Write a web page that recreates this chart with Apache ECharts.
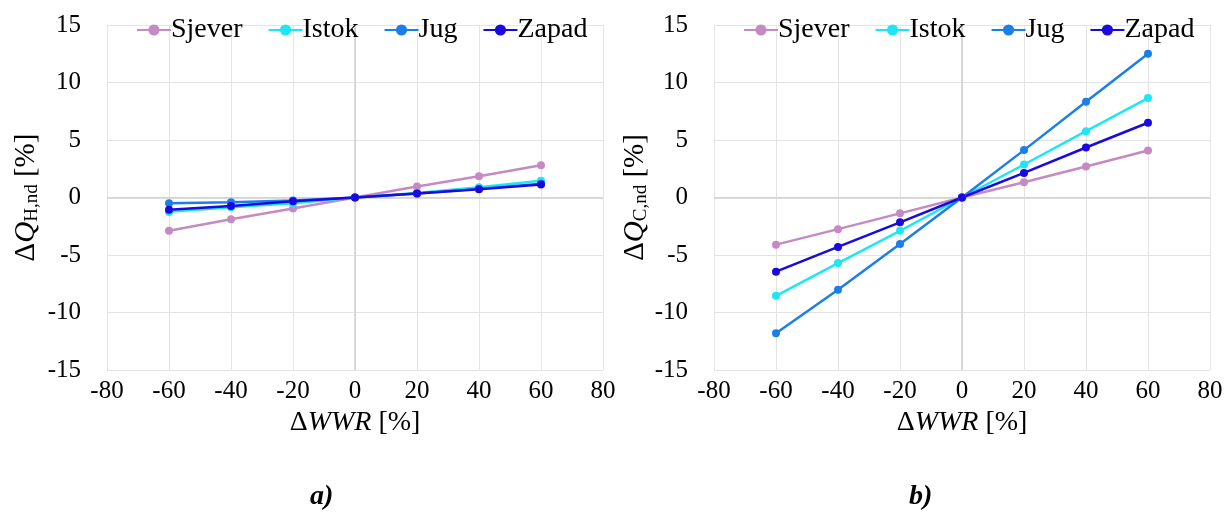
<!DOCTYPE html>
<html>
<head>
<meta charset="utf-8">
<script src="https://cdn.jsdelivr.net/npm/echarts@6/dist/echarts.min.js"></script>
<style>html,body{margin:0;padding:0;background:#fff;}#c{width:1227px;height:531px;}</style>
</head>
<body>
<div id="c"></div>
<script>
var xValues = [-60, -40, -20, 0, 20, 40, 60];
var seriesNames = ['Sjever', 'Istok', 'Jug', 'Zapad'];
var heatSjever = [-2.9, -1.9, -0.95, 0, 0.95, 1.85, 2.8];
var heatIstok  = [-1.25, -0.85, -0.5, 0, 0.4, 0.9, 1.45];
var heatJug    = [-0.5, -0.42, -0.26, 0, 0.35, 0.75, 1.2];
var heatZapad  = [-1.07, -0.73, -0.32, 0, 0.35, 0.72, 1.12];
var coolSjever = [-4.1, -2.75, -1.38, 0, 1.33, 2.7, 4.08];
var coolIstok  = [-8.55, -5.7, -2.9, 0, 2.87, 5.77, 8.65];
var coolJug    = [-11.8, -8.02, -4.05, 0, 4.12, 8.32, 12.5];
var coolZapad  = [-6.45, -4.3, -2.16, 0, 2.14, 4.35, 6.5];
var colors = ['#c68ac3', '#1de6f6', '#1b7fea', '#1a0ae0'];

var FONT = 'Liberation Serif';
var heat = [heatSjever, heatIstok, heatJug, heatZapad];
var cool = [coolSjever, coolIstok, coolJug, coolZapad];

function pairs(vals) { return xValues.map(function (x, i) { return [x, vals[i]]; }); }

var chart = echarts.init(document.getElementById('c'), null, {renderer: 'canvas'});

function xAxisFor(gi) {
  return {
    gridIndex: gi, type: 'value', min: -80, max: 80, interval: 20,
    axisLine: {show: false}, axisTick: {show: false},
    axisLabel: {fontFamily: FONT, fontSize: 25, color: '#000', margin: 9},
    splitLine: {show: true, lineStyle: {color: '#e3e3e3', width: 1}},
    name: '{d|Δ}{i|WWR}{d| [%]}', nameLocation: 'middle', nameGap: 29,
    nameTextStyle: {rich: {
      d: {fontFamily: FONT, fontSize: 28, color: '#000'},
      i: {fontFamily: FONT, fontSize: 28, color: '#000', fontStyle: 'italic'}
    }}
  };
}
function yAxisFor(gi, sub, gap) {
  return {
    gridIndex: gi, type: 'value', min: -15, max: 15, interval: 5,
    axisLine: {show: false}, axisTick: {show: false},
    axisLabel: {fontFamily: FONT, fontSize: 25, color: '#000', margin: 26},
    splitLine: {show: true, lineStyle: {color: '#e3e3e3', width: 1}},
    name: '{d|Δ}{i|Q}{s|' + sub + '}{d| [%]}', nameLocation: 'middle', nameGap: gap, nameRotate: 90,
    nameTextStyle: {rich: {
      d: {fontFamily: FONT, fontSize: 29, color: '#000', lineHeight: 30},
      i: {fontFamily: FONT, fontSize: 29, color: '#000', fontStyle: 'italic', lineHeight: 30},
      s: {fontFamily: FONT, fontSize: 19, color: '#000', lineHeight: 30, padding: [12, 0, 0, 0]}
    }}
  };
}

var series = [];
[heat, cool].forEach(function (set, gi) {
  set.forEach(function (vals, si) {
    var s = {
      name: seriesNames[si], type: 'line', xAxisIndex: gi, yAxisIndex: gi,
      data: pairs(vals), symbol: 'circle', symbolSize: 8,
      lineStyle: {color: colors[si], width: 2.5},
      itemStyle: {color: colors[si]}
    };
    if (si === 0) {
      s.markLine = {silent: true, symbol: 'none', label: {show: false},
        lineStyle: {color: '#cfcfcf', width: 1.5, type: 'solid'},
        data: [{xAxis: 0}, {yAxis: 0}], z: 1};
    }
    series.push(s);
  });
});

var legendBase = {
  data: seriesNames, top: 11, itemWidth: 34, itemHeight: 14, itemGap: 25,
  textStyle: {fontFamily: FONT, fontSize: 28, color: '#000', padding: [0, 0, 0, -5]}
};

chart.setOption({
  backgroundColor: '#fff',
  animation: false,
  color: colors,
  grid: [
    {left: 107, right: 624, top: 25, bottom: 161},
    {left: 714, right: 17, top: 25, bottom: 161}
  ],
  legend: [
    Object.assign({}, legendBase, {left: 131}),
    Object.assign({}, legendBase, {left: 738})
  ],
  xAxis: [xAxisFor(0), xAxisFor(1)],
  yAxis: [yAxisFor(0, 'H,nd', 66), yAxisFor(1, 'C,nd', 60)],
  series: series,
  graphic: [
    {type: 'text', left: 310, top: 483, style: {text: 'a)', fontFamily: FONT, fontSize: 28, fontWeight: 'bold', fontStyle: 'italic', fill: '#000'}},
    {type: 'text', left: 909, top: 483, style: {text: 'b)', fontFamily: FONT, fontSize: 28, fontWeight: 'bold', fontStyle: 'italic', fill: '#000'}}
  ]
});
</script>
</body>
</html>
